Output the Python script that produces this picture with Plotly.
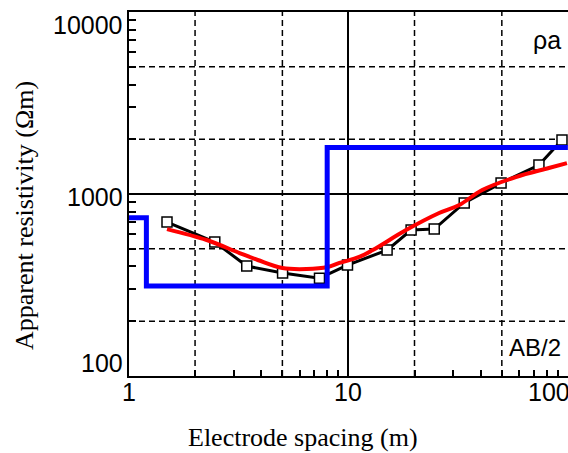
import math
import plotly.graph_objects as go

# Observed apparent resistivity (AB/2 in m, rho_a in ohm-m)
obs_x = [1.49, 2.46, 3.44, 5.01, 7.38, 9.9, 15.0, 19.3, 24.6, 33.7, 49.6, 73.8, 94.0]
obs_y = [702, 545, 402, 368, 345, 407, 492, 634, 642, 893, 1149, 1443, 1980]

# Model response curve
fit_x = [1.49, 2.26, 3.19, 3.86, 5.0, 6.44, 8.04, 9.1, 11.2, 12.9, 18.3, 25.9, 32.0, 40.7, 57.9, 81.9, 99.0]
fit_y = [642, 559, 474, 434, 392, 387, 397, 418, 451, 492, 634, 787, 871, 1052, 1240, 1390, 1480]

# Layered model (step)
model_x = [1.0, 1.2, 8.0, 100.0]
model_y = [740, 312, 1800, 1800]

grid_x_minor = [2, 5, 20, 50]
grid_y_minor = [200, 500, 2000, 5000]

y_ticks = [100, 1000, 10000]
y_ticktext = ["100", "1000", "10000"]
x_ticks = [1, 10, 100]
x_ticktext = ["1", "10", "100"]

fig = go.Figure()

for gx in grid_x_minor:
    fig.add_trace(go.Scatter(x=[gx, gx], y=[100, 10000], mode="lines",
                             line=dict(color="black", width=1.5, dash="6px,4px"),
                             showlegend=False, hoverinfo="skip"))
for gy in grid_y_minor:
    fig.add_trace(go.Scatter(x=[1, 100], y=[gy, gy], mode="lines",
                             line=dict(color="black", width=1.5, dash="6px,4px"),
                             showlegend=False, hoverinfo="skip"))

fig.add_trace(go.Scatter(x=obs_x, y=obs_y, mode="lines+markers",
                         line=dict(color="black", width=3),
                         marker=dict(symbol="square", size=10, color="white",
                                     line=dict(color="black", width=1.5)),
                         showlegend=False))
fig.add_trace(go.Scatter(x=fit_x, y=fit_y, mode="lines",
                         line=dict(color="red", width=4, shape="spline"),
                         showlegend=False))
fig.add_trace(go.Scatter(x=model_x, y=model_y, mode="lines",
                         line=dict(color="blue", width=5, shape="hv"),
                         showlegend=False))

tickfont = dict(family="Liberation Sans, Arial, sans-serif", size=25, color="black")
serif = dict(family="Liberation Serif, Times New Roman, serif", size=26, color="black")

fig.update_xaxes(type="log", range=[0, 2.0005], tickvals=x_ticks, showticklabels=False,
                 showline=True, linecolor="black", linewidth=2, mirror=True,
                 ticks="inside", ticklen=7, tickcolor="black", tickwidth=1.5,
                 showgrid=True, gridcolor="black", gridwidth=1.5,
                 minor=dict(ticks="inside", ticklen=6, tickcolor="black", tickwidth=1.5,
                            dtick="D1", showgrid=False),
                 zeroline=False, automargin=False)
fig.update_yaxes(type="log", range=[2, 4.0005], tickvals=y_ticks, showticklabels=False,
                 showline=True, linecolor="black", linewidth=2, mirror=False,
                 ticks="inside", ticklen=7, tickcolor="black", tickwidth=1.5,
                 showgrid=True, gridcolor="black", gridwidth=1.5,
                 minor=dict(ticks="inside", ticklen=7, tickcolor="black", tickwidth=1.5,
                            dtick="D1", showgrid=False),
                 zeroline=False, automargin=False)

W, H = 568, 453
L, R, T, B = 129, 0, 12, 77

def px(xp, yp):
    return dict(x=(xp - L) / (W - L - R), y=(H - B - yp) / (H - T - B), xref="paper", yref="paper")

annotations = []
# y tick labels (kept inside the plot's vertical extent like the original)
y_shift = {100: 13, 1000: -3, 10000: -13}
for v, t in zip(y_ticks, y_ticktext):
    annotations.append(dict(x=0, xref="paper", y=math.log10(v), yref="y", text=t,
                            showarrow=False, font=tickfont, xanchor="right",
                            yanchor="middle", xshift=-4, yshift=y_shift[v]))
# x tick labels
x_anchor = {1: "center", 10: "center", 100: "right"}
x_xshift = {1: 0, 10: 0, 100: 4}
for v, t in zip(x_ticks, x_ticktext):
    annotations.append(dict(x=math.log10(v), xref="x", y=0, yref="paper", text=t,
                            showarrow=False, font=tickfont, xanchor=x_anchor[v],
                            yanchor="middle", xshift=x_xshift[v], yshift=-16))

annotations += [
    dict(**px(303, 437), text="Electrode spacing (m)", showarrow=False, font=serif,
         xanchor="center", yanchor="middle"),
    dict(**px(24, 216), text="Apparent resistivity (Ωm)", showarrow=False, font=serif,
         textangle=-90, xanchor="center", yanchor="middle"),
    dict(**px(531, 40), text="ρa", showarrow=False,
         font=dict(family="Liberation Sans, Arial, sans-serif", size=25, color="black"),
         xanchor="left", yanchor="middle"),
    dict(**px(507, 347), text="AB/2", showarrow=False,
         font=dict(family="Liberation Sans, Arial, sans-serif", size=24, color="black"),
         xanchor="left", yanchor="middle"),
]

fig.update_layout(
    width=W, height=H,
    margin=dict(l=L, r=R, t=T, b=B, pad=0, autoexpand=False),
    plot_bgcolor="white", paper_bgcolor="white",
    showlegend=False,
    annotations=annotations,
)

fig.write_html("out.html", config={"displayModeBar": False},
               post_script="document.body.style.margin='0';document.body.style.padding='0';")
